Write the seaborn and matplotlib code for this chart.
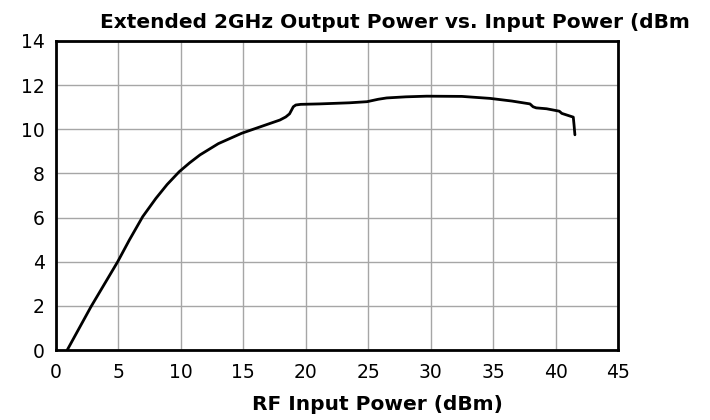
import matplotlib
matplotlib.use("Agg")
import matplotlib.pyplot as plt
import seaborn as sns
import pandas as pd

rf_in = [0.9, 2.8, 4.94, 5.87, 6.94, 8.0, 8.9, 9.87, 10.7, 11.53, 13.0, 14.87,
         16.5, 17.93, 18.4, 18.7, 18.87, 19.0, 19.2, 19.6, 21.1, 23.5, 24.9, 25.8, 26.48,
         28.0, 29.68, 32.5, 34.75, 36.5, 37.95, 38.2, 38.45, 39.28, 40.3, 40.5,
         41.42, 41.48, 41.55]
pout = [0.0, 1.96, 4.0, 4.98, 6.04, 6.87, 7.5, 8.08, 8.48, 8.84, 9.35, 9.82,
        10.14, 10.42, 10.56, 10.70, 10.88, 11.02, 11.10, 11.13, 11.15, 11.20, 11.25, 11.36, 11.42,
        11.47, 11.50, 11.49, 11.40, 11.28, 11.15, 11.02, 10.97, 10.93, 10.82, 10.72,
        10.55, 10.20, 9.75]

x_ticks = [0, 5, 10, 15, 20, 25, 30, 35, 40, 45]
y_ticks = [0, 2, 4, 6, 8, 10, 12, 14]

title = "Extended 2GHz Output Power vs. Input Power (dBm"
x_label = "RF Input Power (dBm)"

df = pd.DataFrame({"x": rf_in, "y": pout})

sns.set_style("white")
plt.rcParams["font.family"] = ["DejaVu Sans"]
plt.rcParams["text.color"] = "black"
plt.rcParams["xtick.color"] = "black"
plt.rcParams["ytick.color"] = "black"
plt.rcParams["axes.labelcolor"] = "black"

fig = plt.figure(figsize=(7.1, 4.2), dpi=100)
ax = fig.add_axes([56/710, 1-350/420, (618-56)/710, (350-41)/420])
sns.lineplot(data=df, x="x", y="y", ax=ax, color="black", linewidth=2.0, sort=False)
ax.set_xlim(0, 45)
ax.set_ylim(0, 14)
ax.set_xticks(x_ticks)
ax.set_yticks(y_ticks)
ax.grid(True, color="#a6a6a6", linewidth=1.0)
ax.tick_params(axis="x", length=0, labelsize=13.5, pad=9)
ax.tick_params(axis="y", length=0, labelsize=13.5, pad=8)
for s in ax.spines.values():
    s.set_visible(True)
    s.set_color("black")
    s.set_linewidth(2.0)
ax.set_xlabel(x_label, fontsize=14.5, fontweight="bold")
ax.xaxis.set_label_coords((377-56)/562, (350-395)/309)
ax.xaxis.label.set_va("top")
ax.set_ylabel("")
fig.text(100/710, 1-23/420, title,
         fontsize=14.5, fontweight="bold", ha="left", va="center")
fig.savefig("out.png", dpi=100)
